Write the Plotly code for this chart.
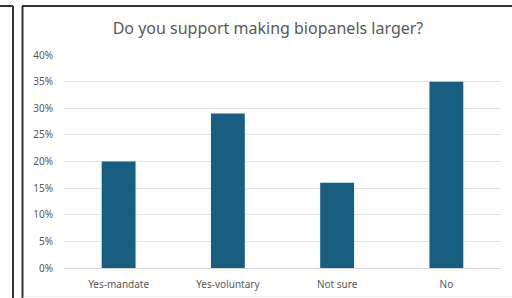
import plotly.graph_objects as go

categories = ["Yes-mandate", "Yes-voluntary", "Not sure", "No"]
values = [0.20, 0.29, 0.16, 0.35]
tick_vals = [0, 0.05, 0.10, 0.15, 0.20, 0.25, 0.30, 0.35, 0.40]
tick_text = ["0%", "5%", "10%", "15%", "20%", "25%", "30%", "35%", "40%"]
title_text = "Do you support making biopanels larger?"

W, H = 512, 298
L, R, T, B = 64, 11, 55, 30
pw, ph = W - L - R, H - T - B

def px(x):
    return (x - L) / pw

def py(y):
    return (H - B - y) / ph

fig = go.Figure(go.Bar(
    x=categories, y=values, width=0.31,
    marker=dict(color="#175E80", line=dict(width=0)),
))

shapes = [
    # chart frame
    dict(type="line", xref="paper", yref="paper", x0=px(22.5), x1=px(22.5), y0=py(6), y1=py(310),
         line=dict(color="#333333", width=2)),
    dict(type="line", xref="paper", yref="paper", x0=px(22), x1=px(520), y0=py(6), y1=py(6),
         line=dict(color="#333333", width=2)),
    # neighbouring panel edge
    dict(type="line", xref="paper", yref="paper", x0=px(13), x1=px(13), y0=py(6), y1=py(310),
         line=dict(color="#333333", width=2)),
    dict(type="line", xref="paper", yref="paper", x0=px(-5), x1=px(13), y0=py(6), y1=py(6),
         line=dict(color="#333333", width=2)),
    dict(type="line", xref="paper", yref="paper", x0=px(23.5), x1=px(520), y0=py(296.5), y1=py(296.5),
         line=dict(color="#eeeeee", width=1)),
]

fig.update_layout(
    width=W, height=H,
    margin=dict(l=L, r=R, t=T, b=B),
    paper_bgcolor="white", plot_bgcolor="white",
    font=dict(family="Noto Sans", color="#595959", size=10),
    title=dict(text=title_text, x=px(268), xref="paper", xanchor="center",
               y=1 - 28 / H, yanchor="middle",
               font=dict(family="Noto Sans", size=16, color="#595959")),
    showlegend=False,
    bargap=0.69,
    shapes=shapes,
    xaxis=dict(showgrid=False, showline=True, linecolor="#d9d9d9", linewidth=1,
               ticks="", ticklabelstandoff=7, automargin=False,
               tickfont=dict(size=10, color="#595959"), fixedrange=True),
    yaxis=dict(range=[0, 0.40], tickvals=tick_vals, ticktext=tick_text,
               showgrid=True, gridcolor="#e3e3e3", gridwidth=1, zeroline=False,
               showline=False, ticks="", ticklabelstandoff=10, automargin=False,
               tickfont=dict(size=10, color="#595959"), fixedrange=True),
)

fig.write_html("out.html", config={"displayModeBar": False},
               post_script="document.body.style.margin='0';document.body.style.overflow='hidden';")
